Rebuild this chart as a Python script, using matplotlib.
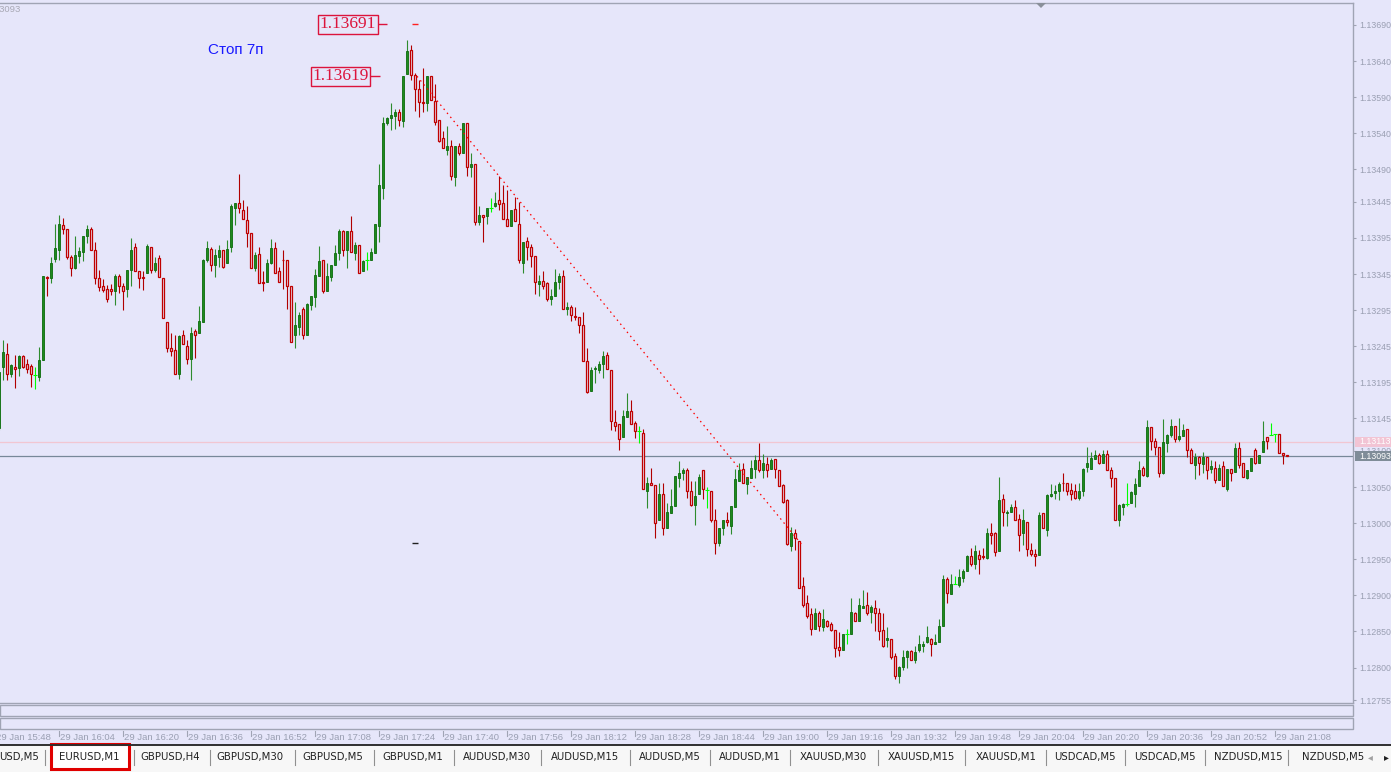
import matplotlib
matplotlib.use("Agg")
import matplotlib.pyplot as plt
import matplotlib.transforms as mtransforms
from matplotlib.patches import Rectangle, Polygon
from matplotlib.lines import Line2D
import numpy as np

# EURUSD M1, 29 Jan - one bar per minute, first bar at 15:49
opens = [
    1.13132, 1.13217, 1.13235, 1.13206, 1.13217, 1.13215, 1.13231, 1.13221, 1.13218, 1.13205,
    1.13203, 1.13226, 1.13341, 1.13339, 1.13366, 1.13379, 1.13413, 1.13407, 1.13368, 1.13353,
    1.13370, 1.13376, 1.13398, 1.13407, 1.13378, 1.13339, 1.13328, 1.13324, 1.13324, 1.13321,
    1.13342, 1.13329, 1.13324, 1.13351, 1.13382, 1.13349, 1.13341, 1.13347, 1.13382, 1.13350,
    1.13367, 1.13339, 1.13278, 1.13242, 1.13240, 1.13206, 1.13261, 1.13246, 1.13228, 1.13266,
    1.13263, 1.13278, 1.13364, 1.13380, 1.13358, 1.13368, 1.13378, 1.13360, 1.13382, 1.13437,
    1.13444, 1.13434, 1.13420, 1.13402, 1.13353, 1.13373, 1.13334, 1.13334, 1.13361, 1.13381,
    1.13349, 1.13365, 1.13365, 1.13329, 1.13260, 1.13272, 1.13296, 1.13260, 1.13302, 1.13313,
    1.13343, 1.13364, 1.13321, 1.13341, 1.13357, 1.13374, 1.13404, 1.13378, 1.13404, 1.13374,
    1.13385, 1.13349, 1.13365, 1.13364, 1.13374, 1.13411, 1.13464, 1.13554, 1.13561, 1.13564,
    1.13569, 1.13557, 1.13622, 1.13655, 1.13621, 1.13601, 1.13584, 1.13582, 1.13619, 1.13585,
    1.13558, 1.13534, 1.13517, 1.13522, 1.13480, 1.13522, 1.13513, 1.13554, 1.13493, 1.13498,
    1.13417, 1.13427, 1.13425, 1.13437, 1.13439, 1.13447, 1.13444, 1.13421, 1.13411, 1.13435,
    1.13414, 1.13360, 1.13391, 1.13382, 1.13370, 1.13331, 1.13336, 1.13332, 1.13310, 1.13315,
    1.13334, 1.13342, 1.13296, 1.13299, 1.13287, 1.13285, 1.13274, 1.13225, 1.13183, 1.13213,
    1.13212, 1.13220, 1.13233, 1.13212, 1.13140, 1.13137, 1.13120, 1.13147, 1.13155, 1.13139,
    1.13128, 1.13125, 1.13045, 1.13055, 1.13053, 1.13004, 1.13041, 1.12994, 1.13014, 1.13024,
    1.13063, 1.13069, 1.13074, 1.13045, 1.13025, 1.13040, 1.13074, 1.13046, 1.13045, 1.13004,
    1.12972, 1.12993, 1.13005, 1.12996, 1.13023, 1.13059, 1.13075, 1.13054, 1.13062, 1.13075,
    1.13088, 1.13073, 1.13082, 1.13075, 1.13089, 1.13074, 1.13053, 1.13032, 1.12969, 1.12987,
    1.12976, 1.12913, 1.12890, 1.12874, 1.12853, 1.12875, 1.12856, 1.12864, 1.12860, 1.12852,
    1.12828, 1.12825, 1.12846, 1.12846, 1.12875, 1.12864, 1.12883, 1.12887, 1.12877, 1.12883,
    1.12875, 1.12852, 1.12838, 1.12840, 1.12816, 1.12789, 1.12801, 1.12814, 1.12823, 1.12811,
    1.12824, 1.12830, 1.12835, 1.12839, 1.12832, 1.12836, 1.12857, 1.12923, 1.12902, 1.12916,
    1.12914, 1.12924, 1.12934, 1.12954, 1.12943, 1.12956, 1.12954, 1.12952, 1.12987, 1.12986,
    1.12962, 1.13034, 1.13014, 1.13015, 1.13022, 1.13006, 1.12987, 1.13001, 1.12963, 1.12958,
    1.12956, 1.13014, 1.12990, 1.13037, 1.13042, 1.13045, 1.13056, 1.13055, 1.13046, 1.13045,
    1.13035, 1.13044, 1.13078, 1.13075, 1.13089, 1.13094, 1.13083, 1.13096, 1.13074, 1.13062,
    1.13004, 1.13023, 1.13026, 1.13028, 1.13040, 1.13052, 1.13076, 1.13065, 1.13133, 1.13114,
    1.13106, 1.13070, 1.13111, 1.13122, 1.13135, 1.13116, 1.13121, 1.13130, 1.13102, 1.13081,
    1.13091, 1.13082, 1.13091, 1.13075, 1.13076, 1.13060, 1.13079, 1.13047, 1.13075, 1.13071,
    1.13104, 1.13083, 1.13063, 1.13072, 1.13101, 1.13084, 1.13099, 1.13119, 1.13122, 1.13123,
    1.13123, 1.13097, 1.13095,
]
highs = [
    1.13209, 1.13254, 1.13249, 1.13221, 1.13233, 1.13233, 1.13233, 1.13228, 1.13221, 1.13216,
    1.13244, 1.13342, 1.13342, 1.13369, 1.13414, 1.13427, 1.13422, 1.13408, 1.13371, 1.13398,
    1.13383, 1.13398, 1.13413, 1.13410, 1.13389, 1.13351, 1.13338, 1.13330, 1.13331, 1.13345,
    1.13345, 1.13333, 1.13351, 1.13395, 1.13388, 1.13349, 1.13349, 1.13387, 1.13382, 1.13368,
    1.13371, 1.13339, 1.13278, 1.13263, 1.13261, 1.13261, 1.13268, 1.13254, 1.13272, 1.13269,
    1.13301, 1.13366, 1.13391, 1.13383, 1.13380, 1.13385, 1.13378, 1.13392, 1.13442, 1.13443,
    1.13484, 1.13448, 1.13439, 1.13402, 1.13376, 1.13382, 1.13349, 1.13366, 1.13393, 1.13389,
    1.13355, 1.13378, 1.13365, 1.13329, 1.13307, 1.13292, 1.13300, 1.13305, 1.13315, 1.13352,
    1.13384, 1.13365, 1.13360, 1.13358, 1.13385, 1.13407, 1.13406, 1.13405, 1.13425, 1.13389,
    1.13385, 1.13365, 1.13375, 1.13381, 1.13414, 1.13498, 1.13562, 1.13562, 1.13582, 1.13574,
    1.13574, 1.13619, 1.13669, 1.13662, 1.13624, 1.13614, 1.13631, 1.13619, 1.13619, 1.13608,
    1.13558, 1.13543, 1.13550, 1.13531, 1.13522, 1.13526, 1.13554, 1.13554, 1.13513, 1.13498,
    1.13439, 1.13427, 1.13436, 1.13450, 1.13459, 1.13481, 1.13468, 1.13461, 1.13434, 1.13452,
    1.13445, 1.13389, 1.13397, 1.13387, 1.13370, 1.13344, 1.13349, 1.13334, 1.13324, 1.13352,
    1.13346, 1.13351, 1.13306, 1.13302, 1.13299, 1.13285, 1.13292, 1.13242, 1.13217, 1.13218,
    1.13225, 1.13238, 1.13237, 1.13212, 1.13157, 1.13137, 1.13157, 1.13180, 1.13170, 1.13141,
    1.13134, 1.13130, 1.13064, 1.13076, 1.13053, 1.13055, 1.13055, 1.13028, 1.13048, 1.13065,
    1.13086, 1.13076, 1.13076, 1.13058, 1.13058, 1.13068, 1.13074, 1.13050, 1.13045, 1.13020,
    1.12994, 1.13005, 1.13016, 1.13024, 1.13075, 1.13083, 1.13084, 1.13064, 1.13088, 1.13095,
    1.13111, 1.13096, 1.13091, 1.13090, 1.13089, 1.13074, 1.13054, 1.13033, 1.12995, 1.12992,
    1.12976, 1.12926, 1.12900, 1.12882, 1.12882, 1.12878, 1.12881, 1.12866, 1.12863, 1.12852,
    1.12849, 1.12847, 1.12854, 1.12896, 1.12877, 1.12896, 1.12908, 1.12905, 1.12887, 1.12894,
    1.12883, 1.12876, 1.12856, 1.12840, 1.12820, 1.12802, 1.12825, 1.12825, 1.12825, 1.12830,
    1.12845, 1.12837, 1.12857, 1.12841, 1.12847, 1.12867, 1.12928, 1.12926, 1.12930, 1.12927,
    1.12936, 1.12936, 1.12956, 1.12965, 1.12970, 1.12963, 1.12965, 1.12993, 1.13000, 1.12988,
    1.13064, 1.13040, 1.13018, 1.13026, 1.13032, 1.13013, 1.13020, 1.13001, 1.12972, 1.12964,
    1.13015, 1.13014, 1.13040, 1.13054, 1.13053, 1.13057, 1.13070, 1.13055, 1.13055, 1.13054,
    1.13055, 1.13076, 1.13106, 1.13099, 1.13101, 1.13097, 1.13101, 1.13102, 1.13078, 1.13062,
    1.13027, 1.13028, 1.13055, 1.13044, 1.13062, 1.13086, 1.13079, 1.13143, 1.13133, 1.13118,
    1.13106, 1.13144, 1.13124, 1.13144, 1.13135, 1.13145, 1.13138, 1.13130, 1.13104, 1.13097,
    1.13093, 1.13098, 1.13091, 1.13088, 1.13086, 1.13082, 1.13086, 1.13075, 1.13075, 1.13111,
    1.13112, 1.13083, 1.13074, 1.13090, 1.13104, 1.13094, 1.13142, 1.13119, 1.13139, 1.13123,
    1.13123, 1.13097, 1.13095,
]
lows = [
    1.13129, 1.13198, 1.13198, 1.13203, 1.13187, 1.13204, 1.13215, 1.13208, 1.13188, 1.13186,
    1.13197, 1.13226, 1.13314, 1.13332, 1.13362, 1.13364, 1.13400, 1.13366, 1.13343, 1.13352,
    1.13360, 1.13363, 1.13388, 1.13378, 1.13331, 1.13322, 1.13320, 1.13307, 1.13316, 1.13302,
    1.13319, 1.13295, 1.13313, 1.13329, 1.13349, 1.13326, 1.13323, 1.13347, 1.13346, 1.13348,
    1.13341, 1.13284, 1.13237, 1.13231, 1.13206, 1.13200, 1.13248, 1.13220, 1.13198, 1.13229,
    1.13263, 1.13278, 1.13362, 1.13349, 1.13341, 1.13355, 1.13353, 1.13360, 1.13375, 1.13413,
    1.13430, 1.13421, 1.13382, 1.13354, 1.13349, 1.13332, 1.13321, 1.13334, 1.13359, 1.13346,
    1.13334, 1.13325, 1.13296, 1.13251, 1.13242, 1.13261, 1.13255, 1.13260, 1.13295, 1.13300,
    1.13343, 1.13319, 1.13321, 1.13335, 1.13357, 1.13364, 1.13370, 1.13354, 1.13375, 1.13364,
    1.13347, 1.13349, 1.13350, 1.13364, 1.13374, 1.13389, 1.13449, 1.13551, 1.13545, 1.13546,
    1.13550, 1.13549, 1.13622, 1.13614, 1.13571, 1.13562, 1.13569, 1.13571, 1.13586, 1.13552,
    1.13528, 1.13519, 1.13510, 1.13476, 1.13467, 1.13510, 1.13513, 1.13481, 1.13480, 1.13413,
    1.13413, 1.13389, 1.13414, 1.13431, 1.13438, 1.13434, 1.13421, 1.13412, 1.13411, 1.13418,
    1.13360, 1.13346, 1.13365, 1.13355, 1.13317, 1.13315, 1.13324, 1.13308, 1.13302, 1.13314,
    1.13324, 1.13296, 1.13288, 1.13280, 1.13281, 1.13263, 1.13224, 1.13180, 1.13183, 1.13194,
    1.13208, 1.13201, 1.13213, 1.13129, 1.13127, 1.13101, 1.13120, 1.13147, 1.13138, 1.13118,
    1.13111, 1.13047, 1.13021, 1.13053, 1.12980, 1.13004, 1.12983, 1.12994, 1.13014, 1.13024,
    1.13050, 1.13060, 1.13035, 1.13024, 1.12997, 1.13040, 1.13033, 1.13021, 1.13001, 1.12958,
    1.12969, 1.12983, 1.12996, 1.12985, 1.13023, 1.13059, 1.13055, 1.13041, 1.13062, 1.13062,
    1.13071, 1.13063, 1.13064, 1.13075, 1.13062, 1.13051, 1.13028, 1.12970, 1.12961, 1.12963,
    1.12910, 1.12884, 1.12869, 1.12845, 1.12853, 1.12851, 1.12850, 1.12856, 1.12850, 1.12814,
    1.12816, 1.12825, 1.12832, 1.12846, 1.12864, 1.12864, 1.12883, 1.12873, 1.12862, 1.12850,
    1.12838, 1.12829, 1.12829, 1.12812, 1.12784, 1.12778, 1.12796, 1.12800, 1.12811, 1.12807,
    1.12821, 1.12821, 1.12834, 1.12816, 1.12832, 1.12835, 1.12857, 1.12890, 1.12902, 1.12916,
    1.12912, 1.12918, 1.12934, 1.12941, 1.12937, 1.12930, 1.12951, 1.12951, 1.12971, 1.12954,
    1.12962, 1.12996, 1.12996, 1.13015, 1.13005, 1.12961, 1.12970, 1.12954, 1.12954, 1.12940,
    1.12956, 1.12994, 1.12982, 1.13036, 1.13034, 1.13032, 1.13044, 1.13039, 1.13032, 1.13034,
    1.13032, 1.13038, 1.13071, 1.13075, 1.13089, 1.13082, 1.13083, 1.13073, 1.13050, 1.13005,
    1.12996, 1.13011, 1.13024, 1.13028, 1.13023, 1.13052, 1.13065, 1.13064, 1.13101, 1.13094,
    1.13064, 1.13068, 1.13098, 1.13120, 1.13113, 1.13114, 1.13121, 1.13091, 1.13083, 1.13061,
    1.13067, 1.13070, 1.13061, 1.13070, 1.13055, 1.13060, 1.13051, 1.13044, 1.13059, 1.13071,
    1.13077, 1.13064, 1.13061, 1.13072, 1.13082, 1.13084, 1.13099, 1.13103, 1.13122, 1.13112,
    1.13097, 1.13082, 1.13093,
]
closes = [
    1.13209, 1.13237, 1.13206, 1.13219, 1.13213, 1.13231, 1.13217, 1.13213, 1.13206, 1.13205,
    1.13226, 1.13342, 1.13339, 1.13361, 1.13381, 1.13414, 1.13407, 1.13369, 1.13353, 1.13371,
    1.13377, 1.13398, 1.13407, 1.13378, 1.13339, 1.13327, 1.13323, 1.13310, 1.13321, 1.13342,
    1.13329, 1.13322, 1.13350, 1.13379, 1.13349, 1.13339, 1.13339, 1.13384, 1.13351, 1.13360,
    1.13341, 1.13284, 1.13242, 1.13238, 1.13206, 1.13259, 1.13248, 1.13228, 1.13263, 1.13260,
    1.13280, 1.13365, 1.13381, 1.13357, 1.13371, 1.13378, 1.13355, 1.13380, 1.13439, 1.13443,
    1.13436, 1.13421, 1.13402, 1.13354, 1.13372, 1.13332, 1.13332, 1.13360, 1.13381, 1.13346,
    1.13334, 1.13364, 1.13329, 1.13251, 1.13274, 1.13289, 1.13260, 1.13303, 1.13314, 1.13344,
    1.13363, 1.13321, 1.13343, 1.13358, 1.13374, 1.13404, 1.13378, 1.13404, 1.13375, 1.13385,
    1.13347, 1.13363, 1.13365, 1.13375, 1.13414, 1.13468, 1.13554, 1.13561, 1.13565, 1.13570,
    1.13559, 1.13619, 1.13654, 1.13621, 1.13601, 1.13584, 1.13582, 1.13619, 1.13586, 1.13556,
    1.13530, 1.13519, 1.13522, 1.13481, 1.13522, 1.13513, 1.13554, 1.13493, 1.13498, 1.13417,
    1.13427, 1.13424, 1.13436, 1.13437, 1.13444, 1.13442, 1.13421, 1.13412, 1.13434, 1.13418,
    1.13364, 1.13389, 1.13382, 1.13370, 1.13334, 1.13336, 1.13328, 1.13310, 1.13315, 1.13334,
    1.13342, 1.13296, 1.13300, 1.13289, 1.13285, 1.13274, 1.13224, 1.13181, 1.13212, 1.13215,
    1.13221, 1.13231, 1.13213, 1.13142, 1.13135, 1.13116, 1.13148, 1.13155, 1.13138, 1.13127,
    1.13128, 1.13047, 1.13055, 1.13053, 1.13000, 1.13041, 1.12994, 1.13015, 1.13024, 1.13065,
    1.13070, 1.13074, 1.13045, 1.13025, 1.13038, 1.13064, 1.13047, 1.13046, 1.13004, 1.12972,
    1.12994, 1.13005, 1.13002, 1.13024, 1.13061, 1.13074, 1.13055, 1.13064, 1.13076, 1.13088,
    1.13073, 1.13084, 1.13073, 1.13088, 1.13075, 1.13051, 1.13030, 1.12971, 1.12987, 1.12979,
    1.12910, 1.12887, 1.12871, 1.12853, 1.12875, 1.12857, 1.12867, 1.12858, 1.12852, 1.12827,
    1.12825, 1.12847, 1.12846, 1.12877, 1.12864, 1.12886, 1.12885, 1.12876, 1.12884, 1.12876,
    1.12851, 1.12830, 1.12841, 1.12814, 1.12789, 1.12801, 1.12814, 1.12823, 1.12811, 1.12821,
    1.12833, 1.12833, 1.12842, 1.12832, 1.12835, 1.12858, 1.12923, 1.12903, 1.12916, 1.12916,
    1.12925, 1.12934, 1.12954, 1.12943, 1.12961, 1.12950, 1.12953, 1.12986, 1.12984, 1.12960,
    1.13032, 1.13015, 1.13016, 1.13023, 1.13005, 1.12983, 1.13004, 1.12964, 1.12958, 1.12954,
    1.13012, 1.12994, 1.13039, 1.13041, 1.13045, 1.13054, 1.13055, 1.13044, 1.13040, 1.13035,
    1.13045, 1.13075, 1.13083, 1.13090, 1.13094, 1.13083, 1.13096, 1.13073, 1.13063, 1.13005,
    1.13025, 1.13027, 1.13026, 1.13043, 1.13054, 1.13074, 1.13067, 1.13133, 1.13114, 1.13106,
    1.13069, 1.13112, 1.13122, 1.13135, 1.13116, 1.13121, 1.13129, 1.13102, 1.13084, 1.13091,
    1.13084, 1.13092, 1.13074, 1.13079, 1.13060, 1.13076, 1.13051, 1.13075, 1.13070, 1.13104,
    1.13080, 1.13064, 1.13073, 1.13090, 1.13084, 1.13094, 1.13114, 1.13114, 1.13122, 1.13123,
    1.13097, 1.13094, 1.13093,
]

price_ticks = [1.13690, 1.13640, 1.13590, 1.13540, 1.13490, 1.13445, 1.13395, 1.13345,
               1.13295, 1.13245, 1.13195, 1.13145, 1.13100, 1.13050, 1.13000, 1.12950,
               1.12900, 1.12850, 1.12800, 1.12755]
bid, ask = 1.13093, 1.13113
stop_prices = [1.13691, 1.13619]
target_price = 1.12973
# dotted trend line: (bar, price) ends
trend_bars = [103.5, 199.75]
trend_prices = [1.13619, 1.12970]

time_labels = ["15:48", "16:04", "16:20", "16:36", "16:52", "17:08", "17:24", "17:40",
               "17:56", "18:12", "18:28", "18:44", "19:00", "19:16", "19:32", "19:48",
               "20:04", "20:20", "20:36", "20:52", "21:08"]
tabs = ["USD,M5", "EURUSD,M1", "GBPUSD,H4", "GBPUSD,M30", "GBPUSD,M5", "GBPUSD,M1",
        "AUDUSD,M30", "AUDUSD,M15", "AUDUSD,M5", "AUDUSD,M1", "XAUUSD,M30", "XAUUSD,M15",
        "XAUUSD,M1", "USDCAD,M5", "USDCAD,M5", "NZDUSD,M15", "NZDUSD,M5"]
tab_x = [19, 89, 170, 250, 333, 413, 497, 585, 670, 750, 833, 921, 1006, 1085, 1165, 1248, 1333]
tab_sep = [45, 134, 210, 295, 374, 454, 541, 630, 710, 790, 878, 965, 1046, 1125, 1205, 1288]

BG = "#E6E6FA"
GRID = "#A0A4B4"
LBL = "#9A9FB2"
AXFONT = "Liberation Sans"
AXSIZE = 6.8
YSIZE = 6.3
W, H = 1391, 772

def fx(x):
    return x / W

def fy(y):
    return 1 - y / H

o = np.array(opens)
h = np.array(highs)
l = np.array(lows)
c = np.array(closes)
bars = np.arange(len(o)) - 1

fig = plt.figure(figsize=(W / 100, H / 100), dpi=100, facecolor=BG)
ax = fig.add_axes([0, fy(703), fx(1353), (703 - 3) / H])
ax.set_facecolor(BG)
ax.set_xlim(-0.75, 337.5)
ax.set_ylim(1.1275094, 1.1372047)
ax.spines["left"].set_visible(False)
for s in ["top", "right", "bottom"]:
    ax.spines[s].set_color(GRID)
    ax.spines[s].set_linewidth(1)
ax.set_xticks([])
ax.yaxis.tick_right()
ax.set_yticks(price_ticks)
ax.set_yticklabels([f"{p:.5f}" for p in price_ticks], family=AXFONT)
ax.tick_params(axis="y", length=2.5, width=0.8, color=GRID, labelcolor=LBL,
               labelsize=YSIZE, pad=2)

ax.axhline(ask, color="#F2C6D2", lw=0.9, zorder=1)
ax.axhline(bid, color="#778899", lw=0.9, zorder=1)

up = c > o
dn = c < o
dj = c == o
ax.vlines(bars[up], l[up], h[up], color="#2E8B2E", lw=0.8, zorder=2)
ax.vlines(bars[dn], l[dn], h[dn], color="#B00000", lw=0.8, zorder=2)
ax.bar(bars[up], (c - o)[up], bottom=o[up], width=0.6, color="#1F8A1F",
       edgecolor="#0B6B0B", lw=0.6, zorder=3)
ax.bar(bars[dn], (o - c)[dn], bottom=c[dn], width=0.6, facecolor=BG,
       edgecolor="#C00000", lw=0.9, zorder=3)
ax.vlines(bars[dj], l[dj], h[dj], color="#00FF00", lw=0.8, zorder=3)
ax.hlines(o[dj], bars[dj] - 0.45, bars[dj] + 0.45, color="#00FF00", lw=0.8, zorder=3)

# trend line and order marks
ax.plot(trend_bars, trend_prices, color="#FF0000", lw=0.9, ls=(0, (1.2, 3.0)), zorder=4)
ax.hlines(stop_prices[0], 102.3, 103.8, color="#FF2020", lw=1, zorder=4)
ax.hlines(target_price, 102.3, 103.8, color="#202020", lw=1, zorder=4)

# stop price labels
for p, xr, xe in [(stop_prices[0], 93.3, 96.0), (stop_prices[1], 91.5, 94.25)]:
    ax.hlines(p, xr + 0.2, xe, color="#DC143C", lw=1, zorder=4)
    ax.text(xr, p, f"{p:.5f}", ha="right", va="center", color="#DC143C",
            fontsize=12.5, family="Liberation Serif", zorder=5,
            bbox=dict(boxstyle="square,pad=0.08", fc=BG, ec="#DC143C", lw=1))
ax.text(51.3, 1.136554, "Стоп 7п", color="#1A1AFF", fontsize=11,
        family="Liberation Sans", ha="left", va="center")

# price boxes on the right scale
tr_r = mtransforms.blended_transform_factory(fig.transFigure, ax.transData)
fig.patches.append(Rectangle((fx(1355), ask - 0.00007), fx(1391) - fx(1355), 0.00014,
                             transform=tr_r, fc="#F2C4D4", ec="none", zorder=5))
fig.patches.append(Rectangle((fx(1355), bid - 0.00007), fx(1391) - fx(1355), 0.00014,
                             transform=tr_r, fc="#7F8C98", ec="none", zorder=5))
fig.text(fx(1359), ask, f"{ask:.5f}", transform=tr_r, color="white", fontsize=YSIZE,
         family=AXFONT, va="center", ha="left", zorder=6)
fig.text(fx(1359), bid, f"{bid:.5f}", transform=tr_r, color="white", fontsize=YSIZE,
         family=AXFONT, va="center", ha="left", zorder=6)
fig.text(fx(21), fy(10), f"{bid:.5f}", color="#A8A8B4", fontsize=AXSIZE, family=AXFONT,
         ha="right", va="center")

# chart shift marker
fig.patches.append(Polygon([[fx(1036), fy(3)], [fx(1046), fy(3)], [fx(1041), fy(8)]],
                           closed=True, transform=fig.transFigure, fc="#8A909A", ec="none"))

# empty indicator strips
for y0, y1 in [(705, 716), (718, 729)]:
    fig.patches.append(Rectangle((0, fy(y1)), fx(1353), (y1 - y0) / H,
                                 transform=fig.transFigure, fc=BG, ec=GRID, lw=1))

# time axis
tr_t = mtransforms.blended_transform_factory(ax.transData, fig.transFigure)
for j, lab in enumerate(time_labels):
    b = -2 + 16 * j
    fig.lines.append(Line2D([b, b], [fy(731), fy(736)], transform=tr_t, color=GRID, lw=0.8))
    fig.text(b + 0.35, fy(737), "29 Jan " + lab, transform=tr_t, color=LBL,
             fontsize=AXSIZE, family=AXFONT, ha="left", va="center")

# symbol tabs
fig.patches.append(Rectangle((0, 0), 1, fy(745), transform=fig.transFigure,
                             fc="#F7F7F7", ec="none"))
fig.lines.append(Line2D([0, 1], [fy(745), fy(745)], transform=fig.transFigure,
                        color="#303030", lw=1.4))
fig.patches.append(Rectangle((fx(51), fy(769)), fx(129) - fx(51), (769 - 744) / H,
                             transform=fig.transFigure, fc="white", ec="#E00000", lw=2.2))
for xs in tab_sep:
    fig.lines.append(Line2D([fx(xs), fx(xs)], [fy(750), fy(765)], transform=fig.transFigure,
                            color="#909090", lw=0.8))
for name, xc in zip(tabs, tab_x):
    fig.text(fx(xc), fy(757), name, color="#202020", fontsize=7.3, ha="center", va="center")
fig.text(fx(1370), fy(757), "◂", color="#A0A0A0", fontsize=7, ha="center", va="center")
fig.text(fx(1386), fy(757), "▸", color="#202020", fontsize=7, ha="center", va="center")

fig.savefig("out.png", dpi=100, facecolor=BG)
